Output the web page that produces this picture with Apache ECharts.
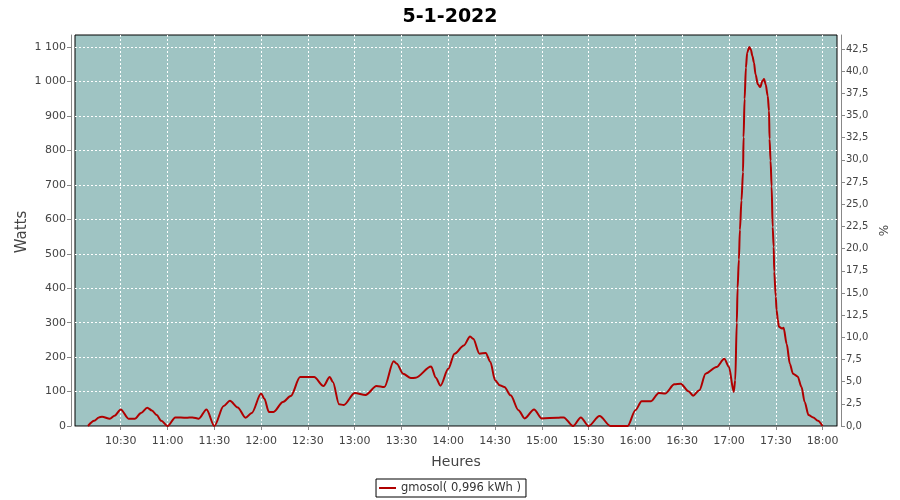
<!DOCTYPE html>
<html><head><meta charset="utf-8">
<script src="https://cdn.jsdelivr.net/npm/echarts@6/dist/echarts.min.js"></script>
<style>html,body{margin:0;padding:0;background:#fff}#c{width:900px;height:500px}</style>
</head><body><div id="c"></div>
<script>
const chartTitle = "5-1-2022";
const seriesName = "gmosol( 0,996 kWh )";
const leftAxisName = "Watts";
const times = ["10:09","10:13","10:16","10:18","10:23","10:26","10:30","10:35","10:39","10:43","10:47","10:50","10:53","10:56",
"11:00","11:05","11:12","11:16","11:20","11:25","11:30","11:36","11:40","11:45","11:50","11:54",
"12:00","12:02","12:05","12:08","12:14","12:19","12:25","12:29","12:34","12:40","12:44","12:46","12:50","12:53",
"13:00","13:07","13:14","13:19","13:25","13:27","13:31","13:36","13:39","13:49","13:52","13:55",
"14:00","14:04","14:10","14:14","14:16","14:20","14:24","14:27","14:30","14:33","14:36","14:40","14:45","14:49","14:55",
"15:00","15:10","15:14","15:20","15:25","15:30","15:37","15:44","15:55",
"16:00","16:04","16:10","16:15","16:19","16:25","16:29","16:34","16:37","16:41","16:45","16:52","16:57",
"17:00","17:03","17:04","17:05:00","17:05:30","17:06:20","17:07:00","17:08:00","17:09:00","17:09:20","17:10:00","17:10:50","17:11:40",
"17:13:00","17:14:00","17:15:00","17:16:00","17:17:00","17:18:30","17:20:00","17:21:30","17:22:30","17:23:30","17:24:50","17:25:40",
"17:26:00","17:26:40","17:27:20","17:28:00","17:28:40","17:29:00","17:30:00","17:30:30","17:31:20","17:32:00","17:34:00","17:35:00",
"17:37:00","17:39:00","17:41:00","17:44:00","17:46:30","17:48:30","17:51:00","17:54:00","17:57:00","18:00:00"];
const watts = [0,15,25,27,21,30,48,21,21,38,53,45,32,15,
0,25,24,25,21,48,0,58,73,54,24,38,
94,80,41,41,70,87,142,142,142,116,142,128,63,61,
96,90,116,113,188,181,152,139,140,173,140,117,
166,210,234,260,253,210,212,186,133,118,113,89,46,22,48,
22,24,25,0,25,0,29,0,0,
46,72,72,96,94,121,123,101,88,104,152,171,195,
171,99,133,300,400,483,570,655,737,838,949,1040,1084,
1100,1093,1074,1055,1021,992,984,1002,1007,992,958,915,
833,770,695,578,520,448,375,337,308,288,283,285,
238,181,152,144,113,70,32,25,15,0];
const xTickLabels = ["10:30","11:00","11:30","12:00","12:30","13:00","13:30","14:00","14:30","15:00","15:30","16:00","16:30","17:00","17:30","18:00"];
const wattTicks = [0,100,200,300,400,500,600,700,800,900,1000,1100];
const pctTicks = [0,2.5,5,7.5,10,12.5,15,17.5,20,22.5,25,27.5,30,32.5,35,37.5,40,42.5];

function toMin(s){const p=s.split(':').map(Number);return p[0]*60+p[1]+(p[2]||0)/60;}
const data = times.map((t,i)=>[toMin(t), watts[i]]);
const xTicks = xTickLabels.map(toMin);
const pad = n => (n<10?'0':'')+n;
const font = "DejaVu Sans";

const chart = echarts.init(document.getElementById('c'), null, {renderer:'canvas'});
chart.setOption({
  animation:false,
  backgroundColor:'#ffffff',
  title:{text:chartTitle, left:'center', top:3, textStyle:{fontFamily:font, fontWeight:'bold', fontSize:19, color:'#000'}},
  grid:{left:75, right:63, top:35, bottom:74, show:true, backgroundColor:'#9fc4c3', borderColor:'#000', borderWidth:1},
  graphic:[{type:'text', x:22, y:232, rotation:Math.PI/2,
    style:{text:leftAxisName, align:'center', verticalAlign:'middle', font:'15px "DejaVu Sans"', fill:'#444'}}],
  legend:{bottom:3, left:'center', data:[seriesName], icon:'rect', itemWidth:17, itemHeight:2, itemGap:5,
    borderColor:'#000', borderWidth:1, padding:[3,5,3,3], textStyle:{fontFamily:font, fontSize:11.5, color:'#333'}},
  xAxis:{type:'value', min:toMin("10:00:40"), max:toMin("18:09:15"), offset:4,
    name:'Heures', nameLocation:'middle', nameGap:25, nameTextStyle:{fontFamily:font, fontSize:14, color:'#444'},
    axisLine:{show:true, lineStyle:{color:'#888'}},
    axisTick:{show:true, length:4, lineStyle:{color:'#888'}, customValues:xTicks},
    axisLabel:{customValues:xTicks, fontFamily:font, fontSize:11, color:'#444', margin:6,
      formatter:v=>{const m=Math.round(v);return pad(Math.floor(m/60))+':'+pad(m%60);}},
    splitLine:{show:true, lineStyle:{color:'#ffffff', type:[2,2], width:1}}},
  yAxis:[
    {type:'value', min:0, max:1135, interval:100, offset:4,
     axisLine:{show:true, lineStyle:{color:'#888'}},
     axisTick:{show:true, length:4, lineStyle:{color:'#888'}, customValues:wattTicks},
     axisLabel:{customValues:wattTicks, fontFamily:font, fontSize:11, color:'#444', margin:5,
       formatter:v=>String(v).replace(/\B(?=(\d{3})+(?!\d))/g,' ')},
     splitLine:{show:true, lineStyle:{color:'#ffffff', type:[2,2], width:1}}},
    {type:'value', min:0, max:44.08, position:'right', offset:4,
     name:'%', nameLocation:'middle', nameGap:36, nameTextStyle:{fontFamily:font, fontSize:12, color:'#444'},
     axisLine:{show:true, lineStyle:{color:'#888'}},
     axisTick:{show:true, length:4, lineStyle:{color:'#888'}, customValues:pctTicks},
     axisLabel:{customValues:pctTicks, fontFamily:font, fontSize:10, color:'#444', margin:5,
       formatter:v=>v.toFixed(1).replace('.',',')},
     splitLine:{show:false}}
  ],
  series:[{name:seriesName, type:'line', data:data, showSymbol:false, smooth:0.3, smoothMonotone:'x',
    lineStyle:{color:'#b00000', width:2}, itemStyle:{color:'#b00000'}}]
});
</script></body></html>
